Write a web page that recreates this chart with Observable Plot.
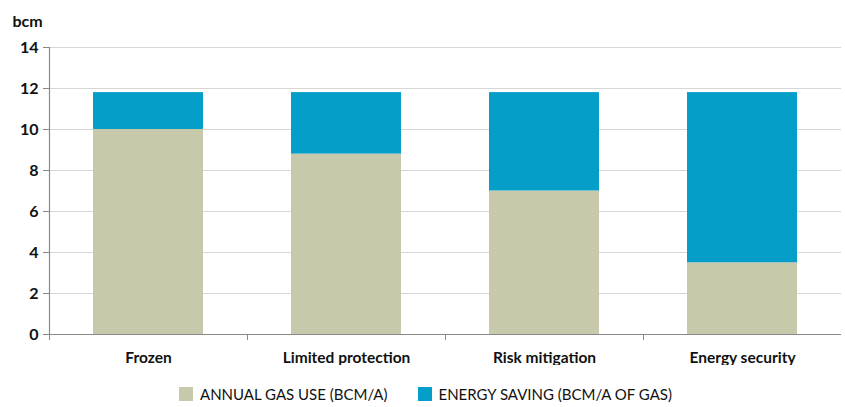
<!DOCTYPE html>
<html>
<head>
<meta charset="utf-8">
<script src="https://cdn.jsdelivr.net/npm/d3@7"></script>
<script src="https://cdn.jsdelivr.net/npm/@observablehq/plot@0.6"></script>
<style>
  html, body { margin: 0; padding: 0; background: #fff; }
  body { width: 845px; height: 407px; overflow: hidden; font-family: Lato, "Open Sans", sans-serif; }
  #legend { display: flex; justify-content: center; align-items: center; gap: 30px; margin-top: 20px; font-size: 15px; color: #111; padding-left: 6px; }
  #legend .item { display: flex; align-items: center; }
  #legend .sw { width: 14px; height: 14px; margin-right: 7px; display: inline-block; }
</style>
</head>
<body>
<div id="chart"></div>
<div id="legend"></div>
<script>
const categories = ["Frozen", "Limited protection", "Risk mitigation", "Energy security"];
const gasUse = [10, 8.8, 7.0, 3.5];
const energySaving = [1.8, 3.0, 4.8, 8.3];
const seriesNames = ["ANNUAL GAS USE (BCM/A)", "ENERGY SAVING (BCM/A OF GAS)"];
const seriesColors = ["#c8c8aa", "#049ec8"];
const yTicks = [0, 2, 4, 6, 8, 10, 12, 14];
const yUnit = "bcm";

const rows = [];
categories.forEach((c, i) => {
  rows.push({category: c, series: seriesNames[0], value: gasUse[i]});
  rows.push({category: c, series: seriesNames[1], value: energySaving[i]});
});

const width = 845, height = 365;
const marginLeft = 49, marginRight = 4, marginTop = 47, marginBottom = 31;
const step = (width - marginLeft - marginRight) / categories.length;
const barWidth = 110;
const inset = (step - barWidth) / 2;

const chart = Plot.plot({
  width, height, marginLeft, marginRight, marginTop, marginBottom,
  style: {fontFamily: "Lato, 'Open Sans', sans-serif", color: "#111", background: "#fff"},
  x: {domain: categories, padding: 0, label: null},
  y: {domain: [0, 14], ticks: yTicks, label: null},
  color: {domain: seriesNames, range: seriesColors},
  marks: [
    Plot.ruleY(yTicks.slice(1), {stroke: "#d6d6d6", strokeWidth: 1.2}),
    Plot.barY(rows, {x: "category", y: "value", fill: "series", order: seriesNames, insetLeft: inset, insetRight: inset}),
    Plot.ruleY([0], {stroke: "#8a8a8a", strokeWidth: 1.2}),
    Plot.ruleX([categories[0]], {dx: -step / 2, y1: 0, y2: 14, stroke: "#8a8a8a", strokeWidth: 1.2}),
    Plot.axisY({ticks: yTicks, tickSize: 6, tickPadding: 5, stroke: "#8a8a8a", fontSize: 16, fontWeight: "bold", label: null}),
    Plot.axisX({tickSize: 6, dx: -step / 2, stroke: "#8a8a8a", text: null, tickFormat: () => "", label: null}),
    Plot.axisX({tickSize: 0, tickPadding: 17, fontSize: 15.5, fontWeight: "bold", label: null}),
    Plot.text([yUnit], {frameAnchor: "top-left", dx: -37, dy: -32, text: d => d, fontSize: 16, fontWeight: "bold", textAnchor: "start"})
  ]
});
document.getElementById("chart").appendChild(chart);

const legend = document.getElementById("legend");
seriesNames.forEach((name, i) => {
  const item = document.createElement("div");
  item.className = "item";
  const sw = document.createElement("span");
  sw.className = "sw";
  sw.style.background = seriesColors[i];
  const label = document.createElement("span");
  label.textContent = name;
  item.appendChild(sw);
  item.appendChild(label);
  legend.appendChild(item);
});
</script>
</body>
</html>
